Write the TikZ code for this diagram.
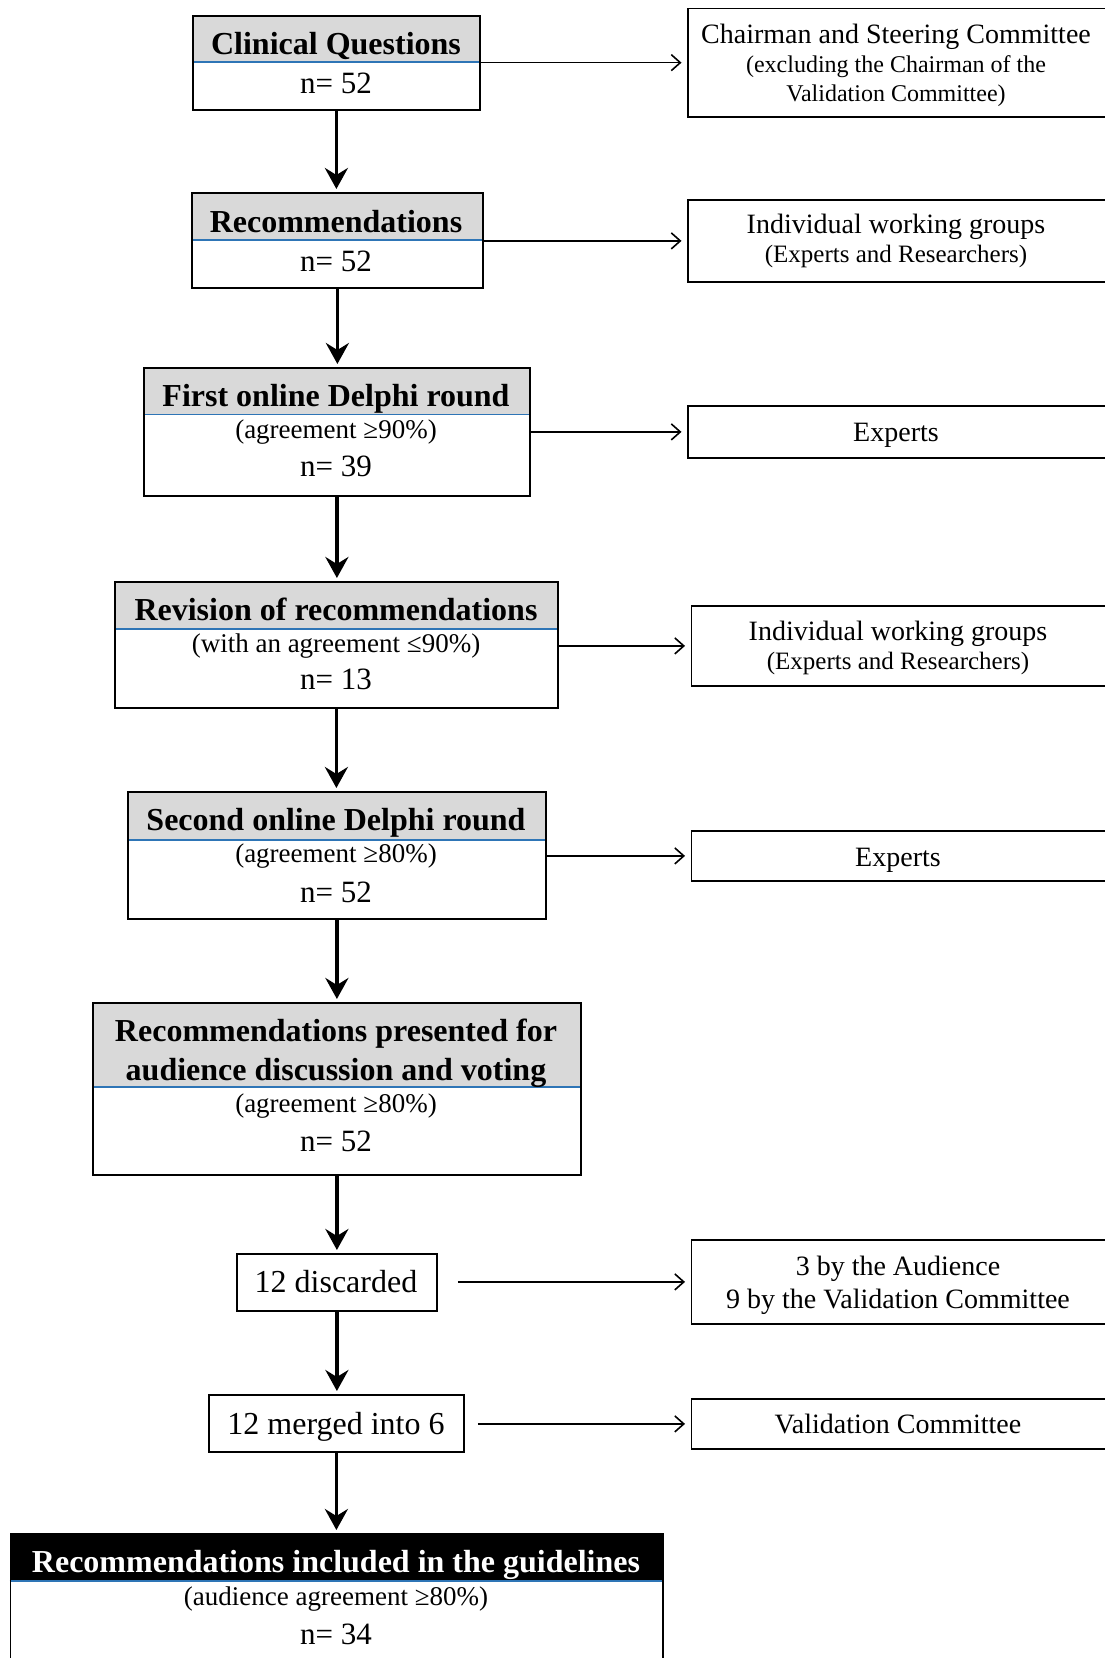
\documentclass[tikz,border=0pt]{standalone}
\usepackage{fontspec}
\setmainfont{Liberation Serif}
\usetikzlibrary{arrows.meta}
\definecolor{hdrgray}{RGB}{217,217,217}
\definecolor{divblue}{RGB}{46,117,182}
\begin{document}
\begin{tikzpicture}[x=1pt,y=-1pt,
  frame/.style={draw, line width=1.8pt, inner sep=0pt, anchor=north west},
  divl/.style={draw=divblue, line width=1.5pt},
  ttl/.style={font=\fontsize{32}{36}\selectfont\bfseries, inner sep=0pt, anchor=base},
  subt/.style={font=\fontsize{27}{30}\selectfont, inner sep=0pt, anchor=base},
  num/.style={font=\fontsize{31}{34}\selectfont, inner sep=0pt, anchor=base},
  rmain/.style={font=\fontsize{28}{30}\selectfont, inner sep=0pt, anchor=base},
  rsub/.style={font=\fontsize{25}{28}\selectfont, inner sep=0pt, anchor=base},
  down/.style={-{Stealth[length=21pt,width=23pt,inset=7pt]}, line width=3.5pt, shorten >=3pt},
  side/.style={-{Straight Barb[length=9pt,width=16pt]}, line width=1.6pt, shorten >=5.5pt},
]
\useasboundingbox (0,0) rectangle (1105,1658);
\fill[white] (0,0) rectangle (1105,1658);

% ---------- Box 1: Clinical Questions
\fill[hdrgray] (192,15) rectangle (479,62);
\draw[divl] (192,62) -- (479,62);
\node[frame, minimum width=287pt, minimum height=94pt] (cq) at (192,15) {};
\node[ttl] (cqT) at (336,54.5) {Clinical Questions};
\node[num] (cqN) at (336,93) {n= 52};

% ---------- Box 2: Recommendations
\fill[hdrgray] (191,192) rectangle (482,240);
\draw[divl] (191,240) -- (482,240);
\node[frame, minimum width=291pt, minimum height=95pt] (rec) at (191,192) {};
\node[ttl] (recT) at (336,232) {Recommendations};
\node[num] (recN) at (336,271) {n= 52};

% ---------- Box 3: First online Delphi round
\fill[hdrgray] (143,367) rectangle (529,414.5);
\draw[divl] (143,414.5) -- (529,414.5);
\node[frame, minimum width=386pt, minimum height=128pt] (fdr) at (143,367) {};
\node[ttl] (fdrT) at (336,406) {First online Delphi round};
\node[subt] (fdrS) at (336,438.5) {(agreement ≥90\%)};
\node[num] (fdrN) at (336,476.5) {n= 39};

% ---------- Box 4: Revision of recommendations
\fill[hdrgray] (114,581) rectangle (557,629);
\draw[divl] (114,629) -- (557,629);
\node[frame, minimum width=443pt, minimum height=126pt] (rev) at (114,581) {};
\node[ttl] (revT) at (336,620) {Revision of recommendations};
\node[subt] (revS) at (336,652) {(with an agreement ≤90\%)};
\node[num] (revN) at (336,689) {n= 13};

% ---------- Box 5: Second online Delphi round
\fill[hdrgray] (127,791) rectangle (545,840);
\draw[divl] (127,840) -- (545,840);
\node[frame, minimum width=418pt, minimum height=127pt] (sdr) at (127,791) {};
\node[ttl] (sdrT) at (336,830) {Second online Delphi round};
\node[subt] (sdrS) at (336,862.5) {(agreement ≥80\%)};
\node[num] (sdrN) at (336,902) {n= 52};

% ---------- Box 6: Recommendations presented
\fill[hdrgray] (92,1002) rectangle (580,1087);
\draw[divl] (92,1087) -- (580,1087);
\node[frame, minimum width=488pt, minimum height=172pt] (pres) at (92,1002) {};
\node[ttl] (presT1) at (336,1041) {Recommendations presented for};
\node[ttl] (presT2) at (336,1080) {audience discussion and voting};
\node[subt] (presS) at (336,1112) {(agreement ≥80\%)};
\node[num] (presN) at (336,1151) {n= 52};

% ---------- Box 7: 12 discarded
\node[frame, minimum width=200pt, minimum height=57pt] (disc) at (236,1253) {};
\node[num, font=\fontsize{32}{34}\selectfont] (discT) at (336,1292.5) {12 discarded};

% ---------- Box 8: 12 merged into 6
\node[frame, minimum width=255pt, minimum height=57pt] (merg) at (208,1394) {};
\node[num, font=\fontsize{32}{34}\selectfont] (mergT) at (336,1434) {12 merged into 6};

% ---------- Box 9: Recommendations included
\fill[black] (9.5,1533) rectangle (662,1581);
\draw[divl] (9.5,1581) -- (662,1581);
\node[frame, minimum width=652.5pt, minimum height=140pt] (incl) at (9.5,1533) {};
\node[ttl, text=white] (inclT) at (336,1572.5) {Recommendations included in the guidelines};
\node[subt] (inclS) at (336,1605) {(audience agreement ≥80\%)};
\node[num] (inclN) at (336,1644) {n= 34};

% ---------- Right-hand boxes
\node[frame, minimum width=423pt, minimum height=108.5pt] (rCh) at (687,7.5) {};
\node[rmain] (rChA) at (896,43.3) {Chairman and Steering Committee};
\node[rsub, font=\fontsize{24}{26}\selectfont] (rChB) at (896,72.7) {(excluding the Chairman of the};
\node[rsub, font=\fontsize{24}{26}\selectfont] (rChC) at (896,101.7) {Validation Committee)};

\node[frame, minimum width=423pt, minimum height=82pt] (rIW1) at (687,199) {};
\node[rmain] (rIW1A) at (896,233) {Individual working groups};
\node[rsub] (rIW1B) at (896,262.5) {(Experts and Researchers)};

\node[frame, minimum width=423pt, minimum height=52pt] (rEx1) at (687,405) {};
\node[rmain] (rEx1A) at (896,441) {Experts};

\node[frame, minimum width=420pt, minimum height=80pt] (rIW2) at (690.5,605) {};
\node[rmain] (rIW2A) at (898,640) {Individual working groups};
\node[rsub] (rIW2B) at (898,669.5) {(Experts and Researchers)};

\node[frame, minimum width=420pt, minimum height=50pt] (rEx2) at (690.5,830) {};
\node[rmain] (rEx2A) at (898,866) {Experts};

\node[frame, minimum width=420pt, minimum height=84pt] (rAud) at (690.5,1239) {};
\node[rmain] (rAudA) at (898,1275) {3 by the Audience};
\node[rmain] (rAudB) at (898,1308) {9 by the Validation Committee};

\node[frame, minimum width=420pt, minimum height=50pt] (rVal) at (690.5,1398) {};
\node[rmain] (rValA) at (898,1433) {Validation Committee};

% ---------- Vertical arrows
\draw[down] (cq.south) -- (cq.south |- rec.north);
\draw[down] (rec.south) -- (rec.south |- fdr.north);
\draw[down] (fdr.south) -- (fdr.south |- rev.north);
\draw[down] (rev.south) -- (rev.south |- sdr.north);
\draw[down] (sdr.south) -- (sdr.south |- pres.north);
\draw[down] (pres.south) -- (pres.south |- disc.north);
\draw[down] (disc.south) -- (disc.south |- merg.north);
\draw[down] (merg.south) -- (merg.south |- incl.north);

% ---------- Side arrows
\draw[side] (cq.east |- rCh.west) -- (rCh.west);
\draw[side] (rec.east |- rIW1.west) -- (rIW1.west);
\draw[side] (fdr.east |- rEx1.west) -- (rEx1.west);
\draw[side] (rev.east |- rIW2.west) -- (rIW2.west);
\draw[side] (sdr.east |- rEx2.west) -- (rEx2.west);
\draw[side] ([xshift=20pt]disc.east |- rAud.west) -- (rAud.west);
\draw[side] ([xshift=13pt]merg.east |- rVal.west) -- (rVal.west);
\end{tikzpicture}
\end{document}
